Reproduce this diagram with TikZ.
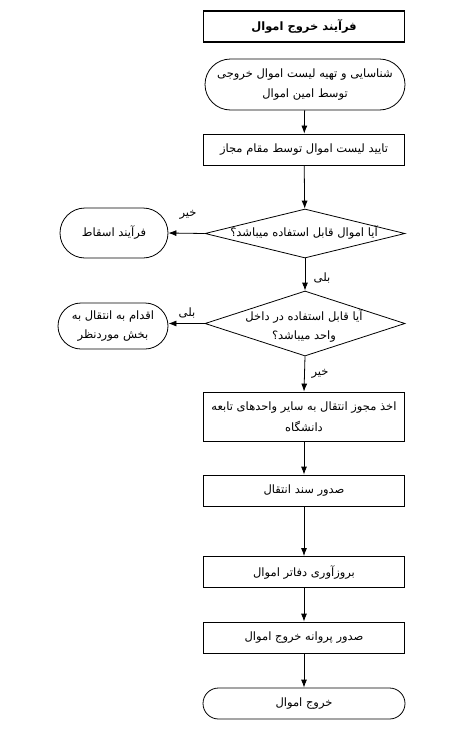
\documentclass[tikz,border=0pt]{standalone}
\usepackage{fontspec}
\usetikzlibrary{shapes.geometric,shapes.misc,arrows.meta}
\TeXXeTstate=1
\newfontfamily\arabicfont[Script=Arabic]{DejaVu Sans}
\newcommand\fatxt[1]{\beginR #1\endR}
\tikzset{
  basefont/.style={font=\arabicfont\fontsize{11.5}{19.5}\selectfont},
  box/.style={draw, rectangle, minimum width=201pt, minimum height=31pt, inner sep=0pt, align=center, line width=0.8pt, basefont},
  titlebox/.style={box, line width=1.3pt},
  term/.style={draw, rounded rectangle, inner sep=0pt, align=center, line width=0.8pt, basefont},
  dia/.style={draw, diamond, inner sep=0pt, minimum width=200pt, minimum height=49pt, line width=0.8pt},
  txt/.style={inner sep=0pt, align=center, basefont},
  lbl/.style={inner sep=0pt, basefont},
  arr/.style={-{Latex[length=8pt,width=6pt]}, line width=0.8pt}
}
\begin{document}
\begin{tikzpicture}[x=1pt,y=-1pt]
\useasboundingbox (0,0) rectangle (475,739);
\fill[white] (0,0) rectangle (475,739);

\node[titlebox] (title) at (304,26.5) {\bfseries\fatxt{فرآیند خروج اموال}};
\node[term, minimum width=200pt, minimum height=51pt] (s1) at (305,84.5) {\fatxt{شناسایی و تهیه لیست اموال خروجی}\\\fatxt{توسط امین اموال}};
\node[box] (s2) at (304,149.5) {\fatxt{تایید لیست اموال توسط مقام مجاز}};
\node[dia] (d1) at (305,233.5) {};
\node[txt] (d1t) at (304,233) {\fatxt{آیا اموال قابل استفاده میباشد؟}};
\node[term, minimum width=108pt, minimum height=50pt] (l1) at (114,233) {\fatxt{فرآیند اسقاط}};
\node[dia, minimum height=65pt] (d2) at (305,323.5) {};
\node[txt] (d2t) at (304,326) {\fatxt{آیا قابل استفاده در داخل}\\\fatxt{واحد میباشد؟}};
\node[term, minimum width=110pt, minimum height=46pt] (l2) at (113,326) {\fatxt{اقدام به انتقال به}\\\fatxt{بخش موردنظر}};
\node[box, minimum height=49pt] (s3) at (304,416.5) {\fatxt{اخذ مجوز انتقال به سایر واحدهای تابعه}\\[1.5pt]\fatxt{دانشگاه}};
\node[box] (s4) at (304,490.5) {\fatxt{صدور سند انتقال}};
\node[box] (s5) at (304,572) {\fatxt{بروزآوری دفاتر اموال}};
\node[box] (s6) at (304,637.5) {\fatxt{صدور پروانه خروج اموال}};
\node[term, minimum width=202pt, minimum height=31pt] (s7) at (304,703.5) {\fatxt{خروج اموال}};

\draw[arr] (s1) -- (s2);
\draw[arr] (s2) -- (d1);
\draw[arr] (d1.west) -- (l1.east);
\draw[arr] (d1.south) -- (d2.north);
\draw[arr] (d2.west) -- (l2.east |- d2.west);
\draw[arr] (d2.south) -- (s3.north);
\draw[arr] (s3) -- (s4);
\draw[arr] (s4) -- (s5);
\draw[arr] (s5) -- (s6);
\draw[arr] (s6) -- (s7);

\node[lbl] (k1) at (188,215) {\fatxt{خیر}};
\node[lbl] (k2) at (322,278) {\fatxt{بلی}};
\node[lbl] (k3) at (187,313) {\fatxt{بلی}};
\node[lbl] (k4) at (320,374) {\fatxt{خیر}};
\end{tikzpicture}
\end{document}
